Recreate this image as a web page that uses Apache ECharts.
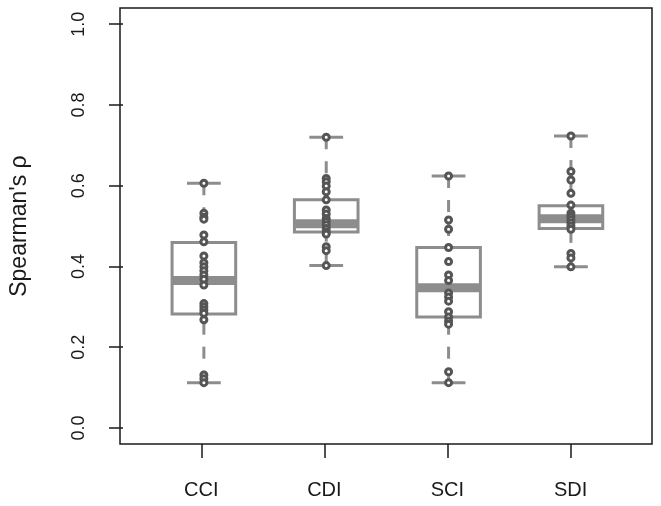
<!DOCTYPE html>
<html>
<head>
<meta charset="utf-8">
<script src="https://cdn.jsdelivr.net/npm/echarts@6/dist/echarts.min.js"></script>
<style>html,body{margin:0;padding:0;background:#fff}#c{width:661px;height:506px}</style>
</head>
<body>
<div id="c"></div>
<script>
const categories = ['CCI', 'CDI', 'SCI', 'SDI'];
// box stats: [min, Q1, median, Q3, max]
const statsCCI = [0.112, 0.282, 0.365, 0.459, 0.606];
const statsCDI = [0.402, 0.485, 0.506, 0.565, 0.720];
const statsSCI = [0.112, 0.275, 0.347, 0.447, 0.624];
const statsSDI = [0.399, 0.494, 0.518, 0.550, 0.723];
// individual observations
const ptsCCI = [0.606, 0.532, 0.522, 0.517, 0.478, 0.461, 0.426, 0.409, 0.399, 0.389, 0.379, 0.368, 0.354, 0.308, 0.300, 0.292, 0.284, 0.268, 0.131, 0.122, 0.112];
const ptsCDI = [0.720, 0.618, 0.610, 0.599, 0.585, 0.565, 0.540, 0.530, 0.519, 0.511, 0.503, 0.494, 0.486, 0.480, 0.449, 0.439, 0.402];
const ptsSCI = [0.624, 0.515, 0.492, 0.447, 0.412, 0.379, 0.365, 0.334, 0.324, 0.314, 0.288, 0.275, 0.265, 0.257, 0.139, 0.112];
const ptsSDI = [0.723, 0.635, 0.614, 0.581, 0.552, 0.532, 0.524, 0.516, 0.508, 0.500, 0.492, 0.432, 0.421, 0.399];
const yTicks = [0, 0.2, 0.4, 0.6, 0.8, 1.0];

const allStats = [statsCCI, statsCDI, statsSCI, statsSDI];
const allPts = [ptsCCI, ptsCDI, ptsSCI, ptsSDI];
const boxData = allStats.map((s, i) => [i].concat(s));
const ptData = [];
allPts.forEach((arr, i) => arr.forEach(v => ptData.push([i, v])));

const BOX = '#8d8d8d';
const PT = '#555555';
const FONT = 'Liberation Sans, Arial, sans-serif';

function renderBox(params, api) {
  const x = api.value(0);
  const mn = api.value(1), q1 = api.value(2), md = api.value(3), q3 = api.value(4), mx = api.value(5);
  const band = api.size([1, 0])[0];
  const hw = band * 0.26, cw = band * 0.138;
  const p = v => api.coord([x, v]);
  const cx = p(md)[0];
  const yMn = p(mn)[1], yQ1 = p(q1)[1], yMd = p(md)[1], yQ3 = p(q3)[1], yMx = p(mx)[1];
  const ls = {stroke: BOX, lineWidth: 3, fill: null};
  return {
    type: 'group',
    children: [
      {type: 'line', shape: {x1: cx, y1: yMn, x2: cx, y2: yQ1}, style: Object.assign({lineDash: [12, 12]}, ls)},
      {type: 'line', shape: {x1: cx, y1: yMx, x2: cx, y2: yQ3}, style: Object.assign({lineDash: [12, 12]}, ls)},
      {type: 'line', shape: {x1: cx - cw, y1: yMn, x2: cx + cw, y2: yMn}, style: ls},
      {type: 'line', shape: {x1: cx - cw, y1: yMx, x2: cx + cw, y2: yMx}, style: ls},
      {type: 'rect', shape: {x: cx - hw, y: yQ3, width: 2 * hw, height: yQ1 - yQ3}, style: {stroke: BOX, lineWidth: 3, fill: '#fff'}},
      {type: 'line', shape: {x1: cx - hw, y1: yMd, x2: cx + hw, y2: yMd}, style: {stroke: BOX, lineWidth: 9}}
    ]
  };
}

const chart = echarts.init(document.getElementById('c'), null, {renderer: 'canvas'});
chart.setOption({
  animation: false,
  backgroundColor: '#fff',
  grid: [
    {left: 139.7, right: 28.9, top: 24.2, bottom: 78.1},
    {left: 139.7, right: 28.9, top: 8, bottom: 62}
  ],
  graphic: [{
    type: 'rect', z: 100,
    shape: {x: 120, y: 8, width: 532, height: 436},
    style: {stroke: '#1a1a1a', lineWidth: 1.5, fill: null}
  }],
  xAxis: [{
    type: 'category', gridIndex: 0, data: categories, show: false
  }, {
    type: 'category', gridIndex: 1, data: categories, position: 'bottom',
    axisLine: {show: false, onZero: false},
    axisTick: {show: true, inside: false, alignWithLabel: true, length: 14, lineStyle: {color: '#1a1a1a', width: 1.5}},
    axisLabel: {color: '#1a1a1a', fontSize: 20, fontFamily: FONT, margin: 36},
    splitLine: {show: false}
  }],
  yAxis: [{
    type: 'value', gridIndex: 0,
    min: 0, max: 1, interval: 0.2,
    offset: 19.7,
    name: "Spearman's ρ",
    nameLocation: 'middle',
    nameRotate: 90,
    nameGap: 92,
    nameTextStyle: {color: '#1a1a1a', fontSize: 23, fontFamily: FONT},
    axisLine: {show: false},
    axisTick: {show: true, length: 14, lineStyle: {color: '#1a1a1a', width: 1.5}},
    axisLabel: {color: '#1a1a1a', fontSize: 18, fontFamily: FONT, rotate: 90, margin: 35,
      formatter: v => v.toFixed(1)},
    splitLine: {show: false}
  }, {
    type: 'value', gridIndex: 1, show: false
  }],
  series: [
    {type: 'custom', renderItem: renderBox, data: boxData, xAxisIndex: 0, yAxisIndex: 0, encode: {x: 0, y: [1, 2, 3, 4, 5]}, z: 2},
    {type: 'scatter', data: ptData, xAxisIndex: 0, yAxisIndex: 0, symbol: 'circle', symbolSize: 6, z: 3,
      itemStyle: {color: '#fff', borderColor: PT, borderWidth: 3, opacity: 1}}
  ]
});
</script>
</body>
</html>
